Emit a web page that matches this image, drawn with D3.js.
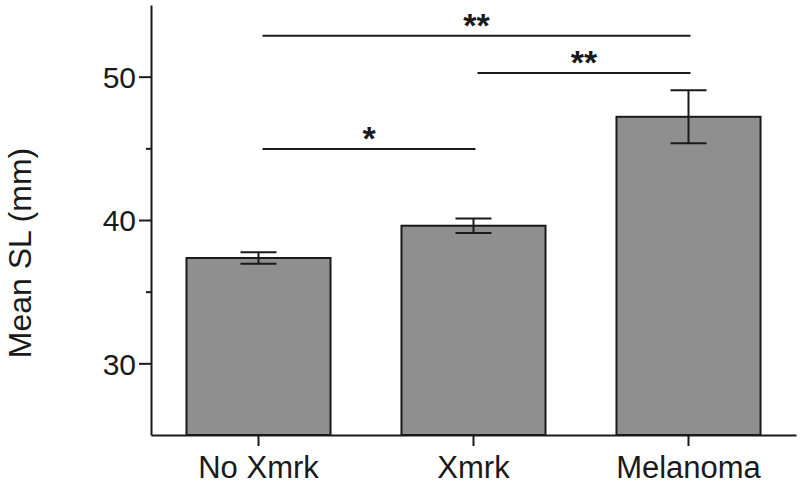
<!DOCTYPE html>
<meta charset="utf-8">

<!-- Load d3.js -->
<script src="https://d3js.org/d3.v7.min.js"></script>

<style>
body {
  margin: 0;
  background: #fff;
}
svg text {
  font-family: "Liberation Sans", Arial, sans-serif;
  fill: #1a1a1a;
}
</style>

<div id="my_dataviz"></div>

<script>

// Data
var groups = ["No Xmrk", "Xmrk", "Melanoma"]
var means  = [37.35, 39.6, 47.2]
var sems   = [0.4, 0.5, 1.85]

// Significance brackets: from group, to group, height (mm), label
var sigFrom   = ["No Xmrk", "Xmrk", "No Xmrk"]
var sigTo     = ["Melanoma", "Melanoma", "Xmrk"]
var sigLevel  = [52.85, 50.25, 44.95]
var sigLabels = ["**", "**", "*"]

var majorTicks = [30, 40, 50]
var minorTicks = [35, 45]

var width = 800
var height = 485

var svg = d3.select("#my_dataviz")
  .append("svg")
    .attr("width", width)
    .attr("height", height)

// Scales
var x = d3.scaleBand()
  .domain(groups)
  .range([151, 796])
  .paddingInner(0.33)
  .paddingOuter(0.165)

var y = d3.scaleLinear()
  .domain([25, 55])
  .range([435, 5])

var cx = function(g){ return x(g) + x.bandwidth() / 2 }

var data = groups.map(function(g, i){ return {name: g, mean: means[i], sem: sems[i]} })

// Bars
svg.append("g")
  .selectAll("rect")
  .data(data)
  .enter()
  .append("rect")
    .attr("x", function(d){ return x(d.name) })
    .attr("y", function(d){ return y(d.mean) })
    .attr("width", x.bandwidth())
    .attr("height", function(d){ return y(25) - y(d.mean) })
    .style("fill", "#8f8f8f")
    .attr("stroke", "#1a1a1a")
    .style("stroke-width", 2)

// Error bars
var err = svg.append("g")
  .attr("stroke", "#1a1a1a")
  .attr("stroke-width", 2)
var capHalf = 18
data.forEach(function(d){
  var c = cx(d.name)
  err.append("line")
    .attr("x1", c).attr("x2", c)
    .attr("y1", y(d.mean + d.sem)).attr("y2", y(d.mean - d.sem))
  err.append("line")
    .attr("x1", c - capHalf).attr("x2", c + capHalf)
    .attr("y1", y(d.mean + d.sem)).attr("y2", y(d.mean + d.sem))
  err.append("line")
    .attr("x1", c - capHalf).attr("x2", c + capHalf)
    .attr("y1", y(d.mean - d.sem)).attr("y2", y(d.mean - d.sem))
})

// Y axis (major ticks with labels + minor ticks)
var yAxis = svg.append("g")
  .attr("transform", "translate(151,0)")
  .call(d3.axisLeft(y).tickValues(majorTicks).tickSize(12).tickPadding(3).tickSizeOuter(0))
yAxis.selectAll("text")
  .style("font-size", "30px")
  .attr("dy", "0.36em")
svg.append("g")
  .attr("transform", "translate(151,0)")
  .call(d3.axisLeft(y).tickValues(minorTicks).tickSize(5).tickFormat("").tickSizeOuter(0))
  .select(".domain").remove()

// X axis
var xAxis = svg.append("g")
  .attr("transform", "translate(0,435)")
  .call(d3.axisBottom(x).tickSize(11).tickPadding(10).tickSizeOuter(0))
xAxis.selectAll("text")
  .style("font-size", "31px")

svg.selectAll(".domain, .tick line")
  .attr("stroke", "#1a1a1a")
  .attr("stroke-width", 2)

// Y axis label
svg.append("text")
  .attr("transform", "translate(31,253) rotate(-90)")
  .attr("text-anchor", "middle")
  .style("font-size", "32px")
  .text("Mean SL (mm)")

// Significance lines and stars
var sig = svg.append("g")
sigLabels.forEach(function(lab, i){
  var x1 = cx(sigFrom[i]) + 4
  var x2 = cx(sigTo[i]) + 2
  sig.append("line")
    .attr("x1", x1).attr("x2", x2)
    .attr("y1", y(sigLevel[i])).attr("y2", y(sigLevel[i]))
    .attr("stroke", "#1a1a1a")
    .attr("stroke-width", 2)
  sig.append("text")
    .attr("x", (x1 + x2) / 2)
    .attr("y", y(sigLevel[i]) + 1)
    .attr("text-anchor", "middle")
    .style("font-size", "34px")
    .style("font-weight", "bold")
    .text(lab)
})

</script>
